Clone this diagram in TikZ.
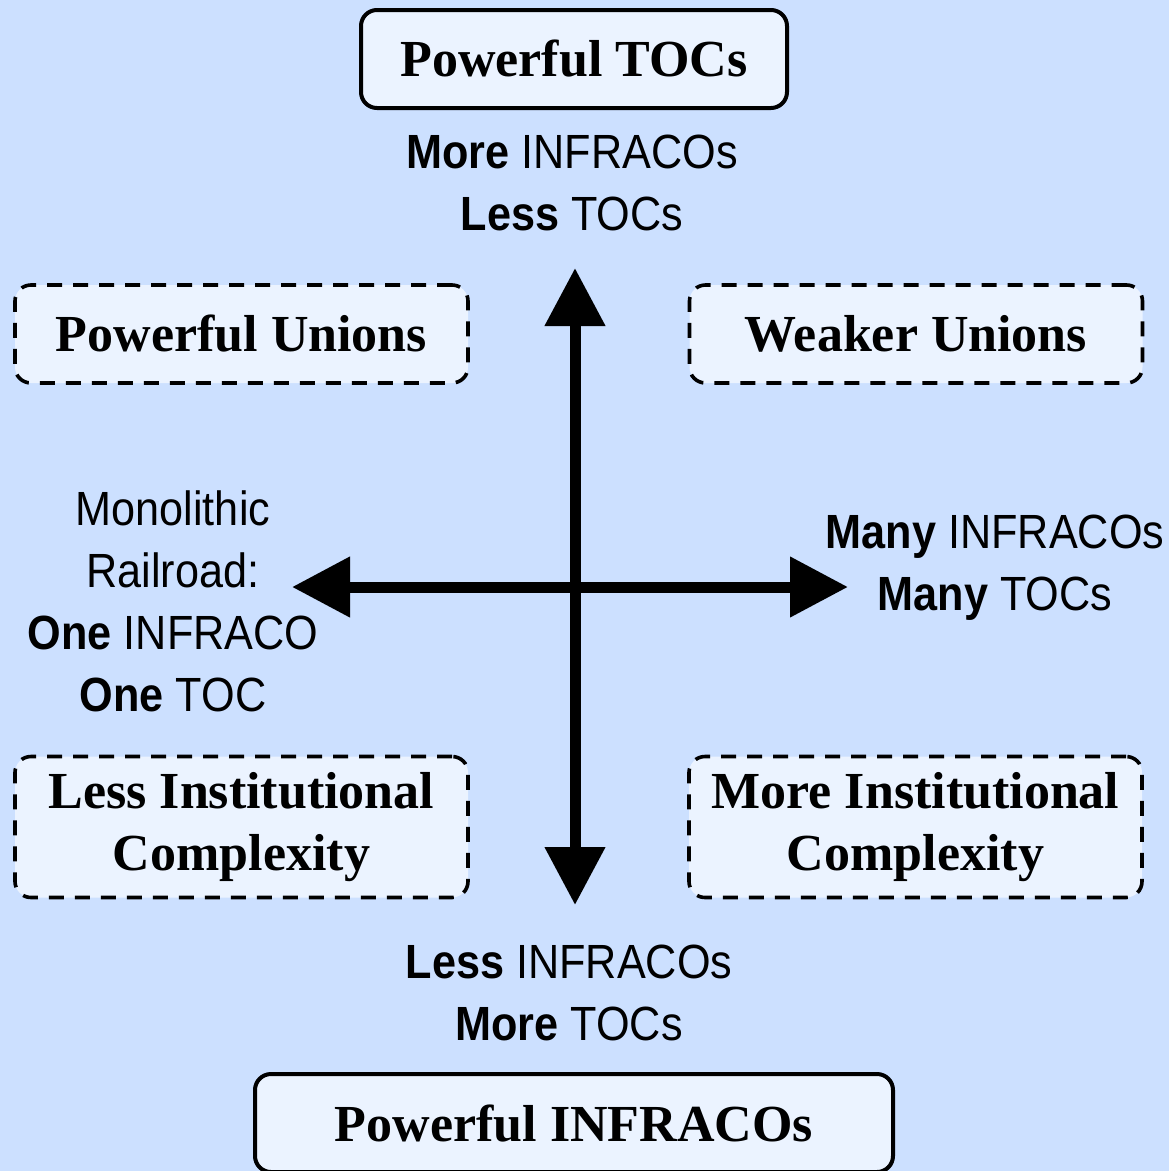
\documentclass[tikz,border=0pt]{standalone}
\usepackage{fontspec}
\setmainfont{Liberation Serif}
\newfontfamily\labfont[FakeStretch=0.9]{Liberation Sans}
\usetikzlibrary{arrows.meta}
\definecolor{bgblue}{RGB}{204,224,255}
\definecolor{boxfill}{RGB}{235,243,255}
\tikzset{
  solidbox/.style={draw=black, line width=4pt, rounded corners=16pt, fill=boxfill, inner sep=0pt,
    font=\fontsize{52}{62}\selectfont\bfseries, align=center},
  dashbox/.style={draw=black, line width=3.6pt, rounded corners=16pt, fill=boxfill, inner sep=0pt,
    dash pattern=on 15pt off 11pt, font=\fontsize{52}{62}\selectfont\bfseries, align=center},
  lab/.style={font=\labfont\fontsize{48}{62}\selectfont, align=center, inner sep=0pt},
  axisboth/.style={line width=11pt, {Triangle[length=58pt,width=58pt]}-{Triangle[length=58pt,width=58pt]}}
}
\begin{document}
\begin{tikzpicture}[x=1pt,y=-1pt]
\fill[bgblue] (0,0) rectangle (1169,1171);
\useasboundingbox (0,0) rectangle (1169,1171);
% boxes
\node[solidbox, minimum width=426pt, minimum height=98pt] (top) at (574,59) {Powerful TOCs};
\node[solidbox, minimum width=638pt, minimum height=98pt] (bot) at (574,1123) {Powerful INFRACOs};
\node[dashbox, minimum width=453pt, minimum height=98pt] (pu) at (241.5,334) {Powerful Unions};
\node[dashbox, minimum width=453pt, minimum height=98pt] (wu) at (916,334) {Weaker Unions};
\node[dashbox, minimum width=453pt, minimum height=141pt] (lic) at (241.5,827) {Less Institutional\\Complexity};
\node[dashbox, minimum width=453pt, minimum height=141pt] (mic) at (915.5,827) {More Institutional\\Complexity};
% labels
\node[lab] (tl) at (572,183) {\textbf{More} INFRACOs\\\textbf{Less} TOCs};
\node[lab] (bl) at (569,993) {\textbf{Less} INFRACOs\\\textbf{More} TOCs};
\node[lab] (ll) at (173,601) {Monolithic\\Railroad:\\\textbf{One} INFRACO\\\textbf{One} TOC};
\node[lab] (rl) at (995,568) {\textbf{Many} INFRACOs\\\textbf{Many} TOCs};
% axes
\coordinate (vt) at (575,268);
\coordinate (vb) at (575,905);
\coordinate (hl) at (292,587);
\coordinate (hr) at (848,587);
\draw[axisboth] (vb) -- (vt);
\draw[axisboth] (hl) -- (hr);
\end{tikzpicture}
\end{document}
